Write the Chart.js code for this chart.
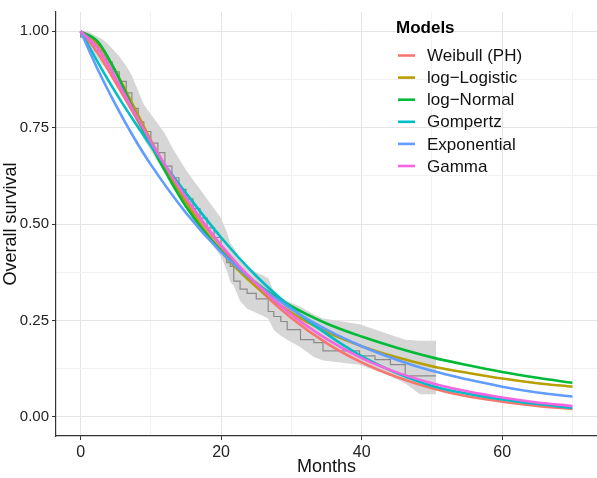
<!DOCTYPE html>
<html>
<head>
<meta charset="utf-8">
<script src="https://cdn.jsdelivr.net/npm/chart.js@4.4.1/dist/chart.umd.min.js"></script>
<style>
  body { margin: 0; background: #fff; }
  canvas { display: block; }
</style>
</head>
<body>
<canvas id="myChart" width="597" height="478"></canvas>
<script>
// time points (months) for the fitted curves
const months = [0, 2.5, 5, 7.5, 10, 15, 20, 25, 30, 35, 40, 45, 50, 55, 60, 65, 70];

// fitted survival curves
const weibull     = [1, 0.942, 0.866, 0.788, 0.710, 0.565, 0.441, 0.338, 0.256, 0.191, 0.141, 0.103, 0.074, 0.053, 0.039, 0.028, 0.020];
const logLogistic = [1, 0.966, 0.895, 0.807, 0.717, 0.555, 0.429, 0.337, 0.270, 0.220, 0.183, 0.154, 0.131, 0.114, 0.099, 0.087, 0.078];
const logNormal   = [1, 0.972, 0.895, 0.797, 0.705, 0.545, 0.430, 0.347, 0.287, 0.242, 0.208, 0.179, 0.154, 0.134, 0.116, 0.101, 0.088];
const gompertz    = [1, 0.918, 0.841, 0.770, 0.703, 0.580, 0.465, 0.365, 0.283, 0.215, 0.157, 0.113, 0.080, 0.060, 0.045, 0.033, 0.023];
const exponential = [1, 0.899, 0.809, 0.727, 0.654, 0.529, 0.427, 0.346, 0.279, 0.226, 0.183, 0.148, 0.119, 0.097, 0.078, 0.063, 0.052];
const gamma       = [1, 0.955, 0.878, 0.795, 0.714, 0.568, 0.445, 0.345, 0.265, 0.202, 0.152, 0.115, 0.087, 0.066, 0.050, 0.037, 0.028];

// Kaplan-Meier estimate with confidence band
const kmTime  = [0, 1, 2, 3, 3.7, 4.5, 5.5, 6.5, 7.3, 8.2, 9, 10, 11, 12, 13, 14, 15, 16, 17, 18, 19, 20, 20.8, 21.3, 21.8, 22.7, 23.7, 25, 26.7, 27.5, 28.5, 29.4, 31.3, 33.2, 34.5, 39.7, 41.9, 44.1, 46.2, 48.3, 50.6];
const kmSurv  = [1, 0.985, 0.97, 0.95, 0.937, 0.92, 0.895, 0.87, 0.84, 0.80, 0.765, 0.74, 0.71, 0.685, 0.65, 0.62, 0.59, 0.565, 0.54, 0.515, 0.49, 0.465, 0.43, 0.40, 0.39, 0.352, 0.331, 0.32, 0.306, 0.273, 0.26, 0.247, 0.226, 0.20, 0.192, 0.171, 0.158, 0.148, 0.135, 0.106, 0.106];
const kmLower = [1, 0.96, 0.94, 0.915, 0.90, 0.88, 0.855, 0.825, 0.795, 0.755, 0.72, 0.69, 0.66, 0.635, 0.60, 0.57, 0.545, 0.515, 0.49, 0.465, 0.44, 0.415, 0.38, 0.35, 0.34, 0.30, 0.28, 0.27, 0.255, 0.225, 0.21, 0.20, 0.18, 0.155, 0.146, 0.135, 0.12, 0.105, 0.087, 0.058, 0.058];
const kmUpper = [1, 1, 0.99, 0.98, 0.97, 0.955, 0.935, 0.91, 0.885, 0.845, 0.81, 0.785, 0.76, 0.735, 0.70, 0.67, 0.64, 0.615, 0.59, 0.565, 0.54, 0.515, 0.48, 0.45, 0.44, 0.405, 0.385, 0.375, 0.36, 0.325, 0.31, 0.30, 0.285, 0.265, 0.255, 0.24, 0.226, 0.213, 0.20, 0.197, 0.197];

const modelNames  = ['Weibull (PH)', 'log\u2212Logistic', 'log\u2212Normal', 'Gompertz', 'Exponential', 'Gamma'];
const modelSeries = [weibull, logLogistic, logNormal, gompertz, exponential, gamma];
const modelColors = ['#F8766D', '#B79F00', '#00BA38', '#00BFC4', '#619CFF', '#F564E3'];

const xTicks = [0, 10, 20, 30, 40, 50, 60, 70];
const yTicks = [0, 0.125, 0.25, 0.375, 0.5, 0.625, 0.75, 0.875, 1];

const FONT = '"Liberation Sans", Arial, sans-serif';

function pts(xs, ys) {
  return xs.map((x, i) => ({ x: x, y: ys[i] }));
}

const datasets = [
  { data: pts(kmTime, kmLower), borderWidth: 0, pointRadius: 0, fill: false, order: 20 },
  { data: pts(kmTime, kmUpper), borderWidth: 0, pointRadius: 0, fill: '-1', backgroundColor: '#d6d6d6', order: 19 },
  { data: pts(kmTime, kmSurv), borderColor: '#8a8a8a', borderWidth: 1.2, pointRadius: 0, stepped: 'after', order: 18 }
];
modelSeries.forEach((s, i) => {
  datasets.push({
    label: modelNames[i],
    data: pts(months, s),
    borderColor: modelColors[i],
    borderWidth: 2.6,
    pointRadius: 0,
    cubicInterpolationMode: 'monotone',
    order: 10 - i
  });
});

// labelled (major) ticks
const isMajorX = v => v % 20 === 0;
const isMajorY = v => Math.abs(v * 4 - Math.round(v * 4)) < 1e-6;

const legendPlugin = {
  id: 'modelLegend',
  afterDatasetsDraw(chart) {
    const ctx = chart.ctx;
    ctx.save();
    ctx.fillStyle = '#000';
    ctx.font = 'bold 17px ' + FONT;
    ctx.textBaseline = 'alphabetic';
    ctx.fillText('Models', 396, 33);
    ctx.font = '17px ' + FONT;
    ctx.textBaseline = 'middle';
    modelNames.forEach((name, i) => {
      const y = 55.5 + i * 22.1;
      ctx.strokeStyle = modelColors[i];
      ctx.lineWidth = 2.6;
      ctx.beginPath();
      ctx.moveTo(398, y);
      ctx.lineTo(415, y);
      ctx.stroke();
      ctx.fillStyle = '#111';
      ctx.fillText(name, 427, y + 1);
    });
    ctx.restore();
  }
};

const ctx = document.getElementById('myChart').getContext('2d');
const myChart = new Chart(ctx, {
  type: 'line',
  data: { datasets: datasets },
  plugins: [legendPlugin],
  options: {
    responsive: false,
    animation: false,
    devicePixelRatio: 1,
    layout: { padding: 0 },
    plugins: { legend: { display: false }, tooltip: { enabled: false } },
    scales: {
      x: {
        type: 'linear',
        min: -3.5,
        max: 73.5,
        afterBuildTicks: s => { s.ticks = xTicks.map(v => ({ value: v })); },
        afterFit: s => { s.height = 42; },
        ticks: {
          autoSkip: false,
          maxRotation: 0,
          padding: 3,
          color: '#222',
          font: { family: FONT, size: 16 },
          callback: v => isMajorX(v) ? String(v) : ''
        },
        grid: {
          color: c => isMajorX(c.tick.value) ? '#e4e4e4' : '#f1f1f1',
          lineWidth: 1,
          tickLength: 4,
          tickColor: c => isMajorX(c.tick.value) ? '#333' : 'rgba(0,0,0,0)'
        },
        border: { display: true, color: '#333', width: 1.2 },
        title: {
          display: true,
          text: 'Months',
          color: '#111',
          font: { family: FONT, size: 18 },
          padding: { top: 0, bottom: 0 }
        }
      },
      y: {
        type: 'linear',
        min: -0.05,
        max: 1.05,
        afterBuildTicks: s => { s.ticks = yTicks.map(v => ({ value: v })); },
        afterFit: s => { s.width = 56; },
        ticks: {
          autoSkip: false,
          padding: 3,
          color: '#222',
          font: { family: FONT, size: 15 },
          callback: v => isMajorY(v) ? v.toFixed(2) : ''
        },
        grid: {
          color: c => isMajorY(c.tick.value) ? '#e4e4e4' : '#f1f1f1',
          lineWidth: 1,
          tickLength: 4,
          tickColor: c => isMajorY(c.tick.value) ? '#333' : 'rgba(0,0,0,0)'
        },
        border: { display: true, color: '#333', width: 1.2 },
        title: {
          display: true,
          text: 'Overall survival',
          color: '#111',
          font: { family: FONT, size: 18 },
          padding: { top: 0, bottom: 0 }
        }
      }
    }
  }
});
</script>
</body>
</html>
